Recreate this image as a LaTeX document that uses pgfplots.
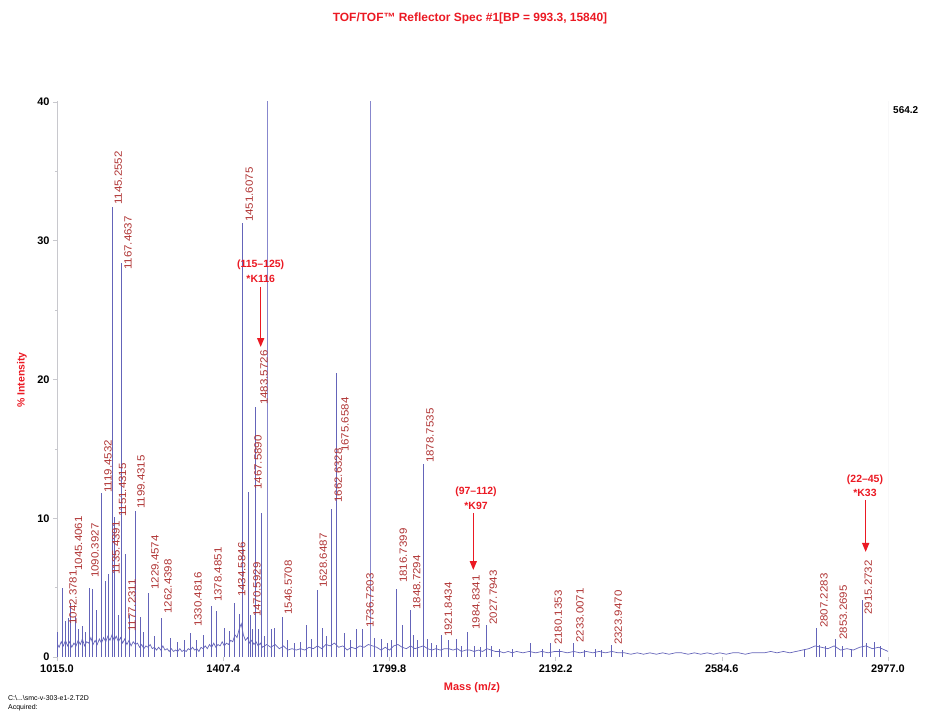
\documentclass[border=0pt]{standalone}
\usepackage{fontspec}
\setmainfont{Liberation Sans}
\newfontfamily\lblfont[FakeStretch=1.1]{Liberation Sans}
\usepackage{pgfplots}
\pgfplotsset{compat=1.18}
\usetikzlibrary{arrows.meta}
\definecolor{spec}{RGB}{100,100,185}
\definecolor{speclight}{RGB}{135,135,205}
\definecolor{lblc}{RGB}{175,50,50}
\definecolor{annc}{RGB}{235,25,35}
\definecolor{axg}{RGB}{200,200,205}
\tikzset{
  lblsty/.style={rotate=90, anchor=west, inner sep=0pt, text=lblc, font=\lblfont\fontsize{10.5}{11}\selectfont},
  annsty/.style={inner sep=0pt, text=annc, font=\bfseries\fontsize{10.5}{12}\selectfont},
  arrsty/.style={draw=annc, line width=1.5pt, -{Triangle[length=9bp,width=7bp]}},
}
\begin{document}
\begin{tikzpicture}
\path[use as bounding box] (0,0) rectangle (926bp,715bp);
\begin{axis}[at={(57bp,58bp)}, anchor=south west, scale only axis,
  width=831bp, height=555bp,
  xmin=1015, xmax=2977, ymin=0, ymax=40,
  axis line style={draw=none},
  xtick={1015,1407.4,1799.8,2192.2,2584.6,2977},
  xticklabels={1015.0,1407.4,1799.8,2192.2,2584.6,2977.0},
  ytick={0,10,20,30,40}, minor ytick={5,15,25,35},
  xtick pos=bottom, ytick pos=left,
  tick align=outside, major tick length=4bp, minor tick length=2bp,
  tick style={axg, line width=0.6pt},
  ticklabel style={font=\bfseries\fontsize{11}{12}\selectfont},
  /pgf/number format/assume math mode=true,
]
\draw[axg, line width=0.8pt] (axis cs:1015,40.3) -- (axis cs:1015,0) -- (axis cs:2977,0) -- (axis cs:2977,40.5);
% baseline
\addplot[spec, line width=0.7pt] coordinates {
(1015,1.0)(1020,0.7)(1025,1.1)(1030,0.8)(1035,1.2)(1040,0.8)(1045,1.1)(1050,0.7)(1055,1.0)(1060,0.8)
(1065,1.2)(1070,0.9)(1075,1.3)(1080,0.8)(1085,1.1)(1090,1.0)(1095,1.4)(1100,0.9)(1105,1.2)(1110,0.9)
(1115,1.3)(1120,1.0)(1125,1.4)(1130,1.1)(1135,1.5)(1140,1.2)(1145,1.6)(1150,1.2)(1155,1.5)(1160,1.1)
(1165,1.4)(1170,1.0)(1175,1.3)(1180,0.9)(1185,1.2)(1190,0.8)(1195,1.1)(1200,0.9)(1205,1.0)(1210,0.7)
(1215,0.9)(1220,0.6)(1225,0.8)(1230,0.7)(1235,0.9)(1240,0.6)(1245,0.7)(1250,0.5)(1255,0.7)(1260,0.5)
(1265,0.8)(1270,0.5)(1275,0.6)(1280,0.4)(1285,0.6)(1290,0.4)(1295,0.5)(1300,0.4)(1305,0.6)(1310,0.4)
(1315,0.5)(1320,0.4)(1325,0.6)(1330,0.5)(1335,0.7)(1340,0.5)(1345,0.6)(1350,0.4)(1355,0.7)(1360,0.6)
(1365,0.8)(1370,0.6)(1375,0.9)(1380,0.7)(1385,1.0)(1390,0.7)(1395,0.9)(1400,0.8)(1405,1.1)(1410,0.8)
(1415,1.0)(1420,0.9)(1425,1.2)(1430,1.1)(1435,1.6)(1440,1.4)(1445,2.0)(1450,2.4)(1455,1.6)(1460,1.2)
(1465,1.4)(1470,1.0)(1475,1.2)(1480,0.9)(1485,1.1)(1490,0.8)(1495,1.0)(1500,0.7)
(1510,0.9)(1520,0.7)(1530,0.9)(1540,0.6)(1550,0.8)(1560,0.5)(1570,0.6)(1580,0.5)(1590,0.6)(1600,0.5)
(1610,0.7)(1620,0.6)(1630,0.8)(1640,0.6)(1650,0.9)(1660,0.8)(1670,1.0)(1680,0.7)(1690,0.8)(1700,0.5)
(1710,0.7)(1720,0.6)(1730,0.8)(1740,0.7)(1750,0.9)(1760,0.8)(1770,0.7)(1780,0.5)(1790,0.7)(1800,0.5)
(1810,0.8)(1820,0.9)(1830,0.7)(1840,0.6)(1850,0.8)(1860,0.6)(1870,0.7)(1880,0.8)(1890,0.6)(1900,0.5)
(1910,0.6)(1920,0.5)(1930,0.6)(1940,0.6)(1950,0.5)(1960,0.6)(1970,0.4)(1980,0.5)(1990,0.5)(2000,0.4)
(2010,0.5)(2020,0.4)(2030,0.6)(2040,0.5)(2050,0.4)(2060,0.4)(2070,0.3)(2080,0.4)(2090,0.3)(2100,0.4)
(2115,0.3)(2130,0.4)(2145,0.3)(2160,0.4)(2175,0.3)(2190,0.4)(2205,0.4)(2220,0.3)(2235,0.4)(2250,0.3)
(2265,0.4)(2280,0.3)(2295,0.4)(2310,0.3)(2325,0.4)(2340,0.3)(2355,0.3)(2370,0.2)(2385,0.3)(2400,0.2)
(2415,0.3)(2430,0.2)(2445,0.3)(2460,0.2)(2475,0.3)(2490,0.3)(2505,0.2)(2520,0.3)(2535,0.2)(2550,0.3)
(2565,0.2)(2580,0.3)(2595,0.2)(2610,0.3)(2625,0.3)(2640,0.2)(2655,0.3)(2670,0.3)(2685,0.3)(2700,0.4)
(2715,0.3)(2730,0.4)(2745,0.3)(2760,0.4)(2775,0.5)(2790,0.6)(2805,0.8)(2820,0.7)(2835,0.6)(2850,0.8)
(2865,0.5)(2880,0.6)(2895,0.5)(2910,0.7)(2925,0.8)(2940,0.6)(2955,0.7)(2970,0.5)(2977,0.4)
};
% peaks
\addplot[spec, ycomb, line width=0.7pt] coordinates {
(1016,1.8)(1027,5.0)(1035,2.6)(1042.4,2.8)(1046,3.9)(1058,2.9)(1066,2.0)(1074,2.2)(1082,1.8)
(1090.4,5.0)(1098,4.9)(1109,3.4)(1119.5,11.8)(1129,5.5)(1135.4,6.0)(1145.3,32.4)(1151.4,10.1)
(1160,3.0)(1167.5,28.4)(1177.2,7.4)(1185,3.0)(1199.4,10.5)(1211,2.9)(1220,1.8)(1229.5,4.6)
(1245,1.5)(1262.4,2.8)(1282,1.4)(1300,1.1)(1316,1.2)(1330.5,1.7)(1345,1.2)(1360,1.6)
(1378.5,3.7)(1392,3.3)(1410,2.1)(1423,1.9)(1434.6,3.9)(1446,3.1)(1451.6,31.3)(1467.6,11.9)
(1470.6,3.0)(1476,2.0)(1483.6,18.0)(1490,2.0)(1497.8,10.4)(1505,1.5)(1520,2.0)
(1529,2.1)(1546.6,2.9)(1560,1.2)(1575,1.0)(1590,1.1)(1603.7,2.3)(1615,1.3)(1628.6,4.8)
(1641,2.1)(1650,1.5)(1662.6,10.7)(1675.7,20.5)(1694,1.7)(1708,1.2)(1721,2.0)(1736.7,2.0)
(1765,1.4)(1780,1.3)(1795,1.0)(1805,1.2)(1816.7,4.9)(1831,2.3)(1848.7,3.4)
(1856,1.6)(1865,1.2)(1878.8,13.9)(1890,1.3)(1900,1.0)(1910,0.9)(1921.8,1.6)(1939,1.2)
(1957,1.3)(1970,0.8)(1984.8,1.8)(2000,0.8)(2015,0.7)(2027.8,2.3)(2040,0.8)(2060,0.6)
(2090,0.6)(2133,1.0)(2160,0.6)(2180.1,1.0)(2200,0.6)(2233.0,1.0)(2260,0.5)(2285,0.6)
(2300,0.5)(2323.9,0.9)(2350,0.5)(2780,0.6)(2807.2,2.1)(2815,0.9)(2830,0.8)(2853.3,1.3)
(2870,0.8)(2890,0.6)(2915.3,4.1)(2925,1.0)(2945,1.1)(2960,0.8)
};
% off-scale peaks
\addplot[speclight, ycomb, line width=0.9pt] coordinates {(1512.6,60)(1754,60)};
% peak labels
\node[lblsty] at (axis cs:1052.8,2.31) {1042.3781};
\node[lblsty] at (axis cs:1065.8,6.20) {1045.4061};
\node[lblsty] at (axis cs:1104.7,5.69) {1090.3927};
\node[lblsty] at (axis cs:1135.4,11.82) {1119.4532};
\node[lblsty] at (axis cs:1154.3,5.91) {1135.4391};
\node[lblsty] at (axis cs:1159.7,32.58) {1145.2552};
\node[lblsty] at (axis cs:1169.6,10.09) {1151.4315};
\node[lblsty] at (axis cs:1182.6,27.89) {1167.4637};
\node[lblsty] at (axis cs:1192.1,1.80) {1177.2311};
\node[lblsty] at (axis cs:1213.3,10.67) {1199.4315};
\node[lblsty] at (axis cs:1246.4,4.83) {1229.4574};
\node[lblsty] at (axis cs:1277.1,3.10) {1262.4398};
\node[lblsty] at (axis cs:1347.9,2.16) {1330.4816};
\node[lblsty] at (axis cs:1395.1,3.96) {1378.4851};
\node[lblsty] at (axis cs:1451.1,4.32) {1434.5846};
\node[lblsty] at (axis cs:1469.0,31.35) {1451.6075};
\node[lblsty] at (axis cs:1489.6,12.04) {1467.5890};
\node[lblsty] at (axis cs:1487.2,2.88) {1470.5929};
\node[lblsty] at (axis cs:1503.7,18.16) {1483.5726};
\node[lblsty] at (axis cs:1561.1,3.03) {1546.5708};
\node[lblsty] at (axis cs:1643.7,4.97) {1628.6487};
\node[lblsty] at (axis cs:1679.2,11.10) {1662.6328};
\node[lblsty] at (axis cs:1695.0,14.77) {1675.6584};
\node[lblsty] at (axis cs:1754.0,2.09) {1736.7203};
\node[lblsty] at (axis cs:1832.6,5.33) {1816.7399};
\node[lblsty] at (axis cs:1864.2,3.39) {1848.7294};
\node[lblsty] at (axis cs:1895.7,13.98) {1878.7535};
\node[lblsty] at (axis cs:1938.9,1.44) {1921.8434};
\node[lblsty] at (axis cs:2004.3,1.95) {1984.8341};
\node[lblsty] at (axis cs:2045.1,2.31) {2027.7943};
\node[lblsty] at (axis cs:2198.6,0.86) {2180.1353};
\node[lblsty] at (axis cs:2249.8,1.01) {2233.0071};
\node[lblsty] at (axis cs:2340.2,0.86) {2323.9470};
\node[lblsty] at (axis cs:2825.9,2.09) {2807.2283};
\node[lblsty] at (axis cs:2871.5,1.23) {2853.2695};
\node[lblsty] at (axis cs:2930.5,3.03) {2915.2732};
% annotations
\node[annsty] at (axis cs:1495.9,28.25) {(115–125)};
\node[annsty] at (axis cs:1495.9,27.24) {*K116};
\draw[arrsty] (axis cs:1495.9,26.67) -- (axis cs:1495.9,22.34);
\node[annsty] at (axis cs:2004.3,11.89) {(97–112)};
\node[annsty] at (axis cs:2004.3,10.88) {*K97};
\draw[arrsty] (axis cs:1997.9,10.38) -- (axis cs:1997.9,6.27);
\node[annsty] at (axis cs:2922.7,12.76) {(22–45)};
\node[annsty] at (axis cs:2922.7,11.82) {*K33};
\draw[arrsty] (axis cs:2924.3,11.32) -- (axis cs:2924.3,7.57);
\end{axis}
\node[text=annc, font=\bfseries\fontsize{12}{14}\selectfont] at (470bp,697bp) {TOF/TOF™ Reflector Spec \#1[BP = 993.3, 15840]};
\node[rotate=90, text=annc, font=\bfseries\fontsize{10.5}{12}\selectfont] at (22bp,335bp) {\% Intensity};
\node[text=annc, font=\bfseries\fontsize{11}{12}\selectfont] at (472bp,27bp) {Mass (m/z)};
\node[anchor=west, inner sep=0pt, font=\fontsize{7}{8}\selectfont] at (8bp,17bp) {C:\textbackslash...\textbackslash smc-v-303-e1-2.T2D};
\node[anchor=west, inner sep=0pt, font=\fontsize{7}{8}\selectfont] at (8bp,7bp) {Acquired:};
\node[anchor=west, inner sep=0pt, font=\bfseries\fontsize{10}{12}\selectfont] at (893bp,605bp) {564.2};
\end{tikzpicture}
\end{document}
